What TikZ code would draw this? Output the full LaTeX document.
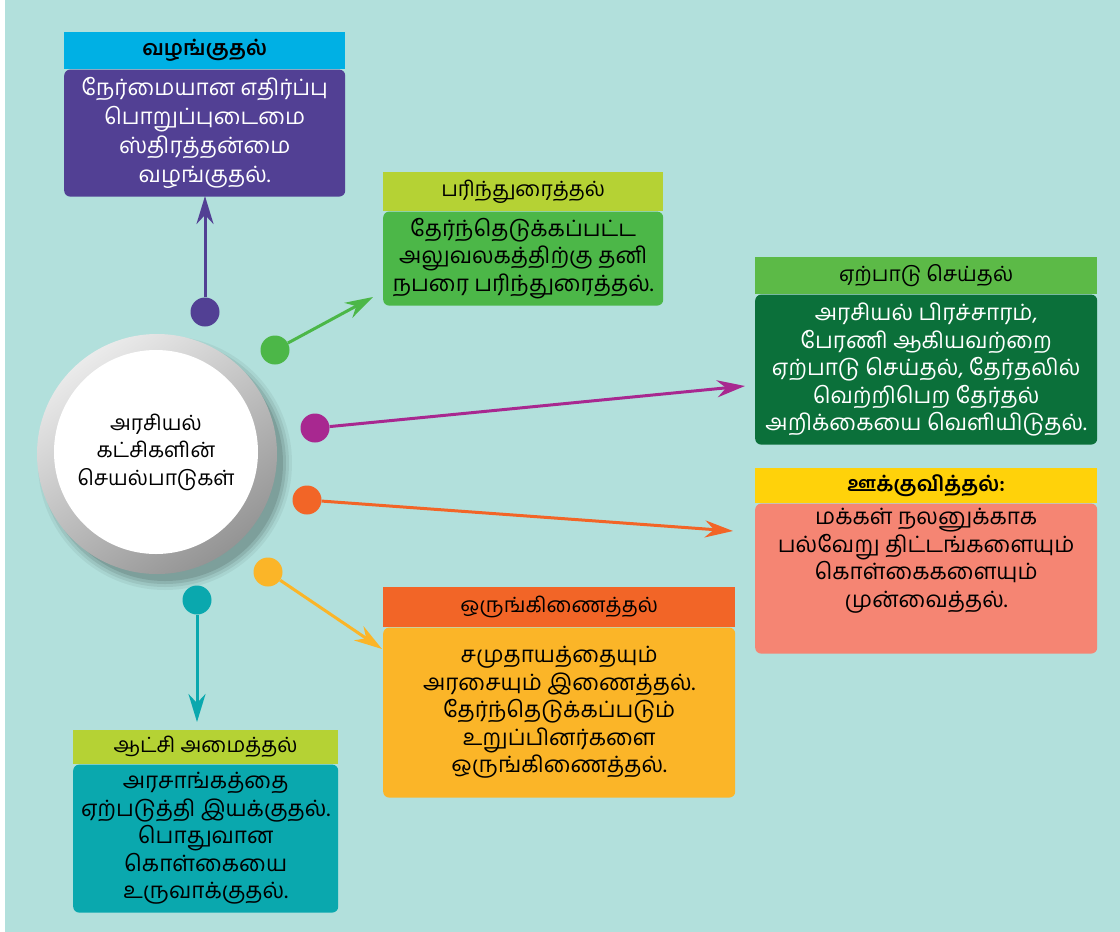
\documentclass[tikz,border=0pt]{standalone}
\usepackage{fontspec}
\newfontfamily\tamil[Script=Tamil]{Hind Madurai}
\usetikzlibrary{positioning,arrows.meta}

\definecolor{bgteal}{RGB}{178,224,220}
\definecolor{hcyan}{RGB}{0,176,228}
\definecolor{bpurple}{RGB}{82,64,148}
\definecolor{hlime}{RGB}{181,210,52}
\definecolor{bgreen}{RGB}{76,183,72}
\definecolor{hgreen}{RGB}{92,186,71}
\definecolor{bdkgreen}{RGB}{11,112,58}
\definecolor{cmagenta}{RGB}{168,40,144}
\definecolor{hyellow}{RGB}{255,210,10}
\definecolor{bsalmon}{RGB}{245,133,115}
\definecolor{corange}{RGB}{242,101,39}
\definecolor{bamber}{RGB}{251,181,40}
\definecolor{cteal}{RGB}{10,168,174}

\tikzset{
  hdr/.style={inner sep=0pt, anchor=north west, font=\tamil\fontsize{21}{24}\selectfont},
  hdrbold/.style={hdr, font=\tamil\fontsize{21}{24}\selectfont\bfseries},
  bodybox/.style={rounded corners=6pt, inner sep=0pt, align=center, below=0pt of #1, font=\tamil\fontsize{22.5}{27.5}\selectfont},
  dot/.style={circle, fill=#1, minimum size=29pt, inner sep=0pt},
  link/.style={#1, line width=3pt, -{Stealth[length=28pt, width=17pt, inset=9pt]}}
}

\begin{document}
\begin{tikzpicture}[x=1pt, y=-1pt]
		\useasboundingbox (0,0) rectangle (1120,932);
		\fill[white] (0,0) rectangle (1120,932);
		\fill[bgteal] (5,0) rectangle (1120,932);
		% Center
		\foreach \r/\o in {127/0.05,124/0.07,121/0.09,118/0.11}
			\fill[black, opacity=\o] (165,463) circle (\r);
		\shade[top color=black!8, bottom color=black!42, shading angle=35] (157,454) circle (120);
		\node[circle, fill=white, minimum size=204pt, inner sep=0pt, align=center,
		      font=\tamil\fontsize{21}{27.5}\selectfont] (Katchi) at (156,452)
		      {அரசியல்\\கட்சிகளின்\\செயல்பாடுகள்} ;
		% Boxes
		\node[hdrbold, fill=hcyan, minimum width=281pt, minimum height=37pt] (Vazh) at (64,32) {வழங்குதல்} ;
		\node[bodybox=Vazh, fill=bpurple, text=white, minimum width=281pt, minimum height=127pt,
		      font=\tamil\fontsize{22.5}{29}\selectfont] (Vazhb)
		      {நேர்மையான எதிர்ப்பு\\பொறுப்புடைமை\\ஸ்திரத்தன்மை\\வழங்குதல்.} ;
		\node[hdr, fill=hlime, minimum width=280pt, minimum height=39pt] (Pari) at (383,172) {பரிந்துரைத்தல்} ;
		\node[bodybox=Pari, fill=bgreen, minimum width=280pt, minimum height=94pt] (Parib)
		      {தேர்ந்தெடுக்கப்பட்ட\\அலுவலகத்திற்கு தனி\\நபரை பரிந்துரைத்தல்.} ;
		\node[hdr, fill=hgreen, minimum width=342pt, minimum height=37pt] (Erpa) at (755,257) {ஏற்பாடு செய்தல்} ;
		\node[bodybox=Erpa, fill=bdkgreen, text=white, minimum width=342pt, minimum height=150pt] (Erpab)
		      {அரசியல் பிரச்சாரம்,\\பேரணி ஆகியவற்றை\\ஏற்பாடு செய்தல், தேர்தலில்\\வெற்றிபெற தேர்தல்\\அறிக்கையை வெளியிடுதல்.} ;
		\node[hdrbold, fill=hyellow, minimum width=342pt, minimum height=35pt] (Ookku) at (755,468) {ஊக்குவித்தல்:} ;
		\node[bodybox=Ookku, fill=bsalmon, minimum width=342pt, minimum height=150pt] (Ookkub)
		      {மக்கள் நலனுக்காக\\பல்வேறு திட்டங்களையும்\\கொள்கைகளையும்\\முன்வைத்தல்.\\[14pt]} ;
		\node[hdr, fill=corange, minimum width=352pt, minimum height=40pt] (Orun) at (383,587) {ஒருங்கிணைத்தல்} ;
		\node[bodybox=Orun, fill=bamber, minimum width=352pt, minimum height=170pt] (Orunb)
		      {சமுதாயத்தையும்\\அரசையும் இணைத்தல்.\\தேர்ந்தெடுக்கப்படும்\\உறுப்பினர்களை\\ஒருங்கிணைத்தல்.} ;
		\node[hdr, fill=hlime, minimum width=265pt, minimum height=34pt] (Aatchi) at (73,730) {ஆட்சி அமைத்தல்} ;
		\node[bodybox=Aatchi, fill=cteal, minimum width=265pt, minimum height=148pt] (Aatchib)
		      {அரசாங்கத்தை\\ஏற்படுத்தி இயக்குதல்.\\பொதுவான\\கொள்கையை\\உருவாக்குதல்.} ;
		% Dots
		\node[dot=bpurple] (dVazh) at (205,312) {} ;
		\node[dot=bgreen] (dPari) at (275,350) {} ;
		\node[dot=cmagenta] (dErpa) at (315,428) {} ;
		\node[dot=corange] (dOokku) at (307,500) {} ;
		\node[dot=bamber] (dOrun) at (268,572) {} ;
		\node[dot=cteal] (dAatchi) at (197,600) {} ;
		% Arrow ends
		\coordinate (tVazh) at (205,196) ;
		\coordinate (tPari) at (373,297) ;
		\coordinate (tErpa) at (745,386) ;
		\coordinate (tOokku) at (733,531) ;
		\coordinate (tOrun) at (382,649) ;
		\coordinate (tAatchi) at (197,722) ;
		\draw[link=bpurple] (dVazh) -- (tVazh) ;
		\draw[link=bgreen] (dPari) -- (tPari) ;
		\draw[link=cmagenta] (dErpa) -- (tErpa) ;
		\draw[link=corange] (dOokku) -- (tOokku) ;
		\draw[link=bamber] (dOrun) -- (tOrun) ;
		\draw[link=cteal] (dAatchi) -- (tAatchi) ;
	\end{tikzpicture}
\end{document}
